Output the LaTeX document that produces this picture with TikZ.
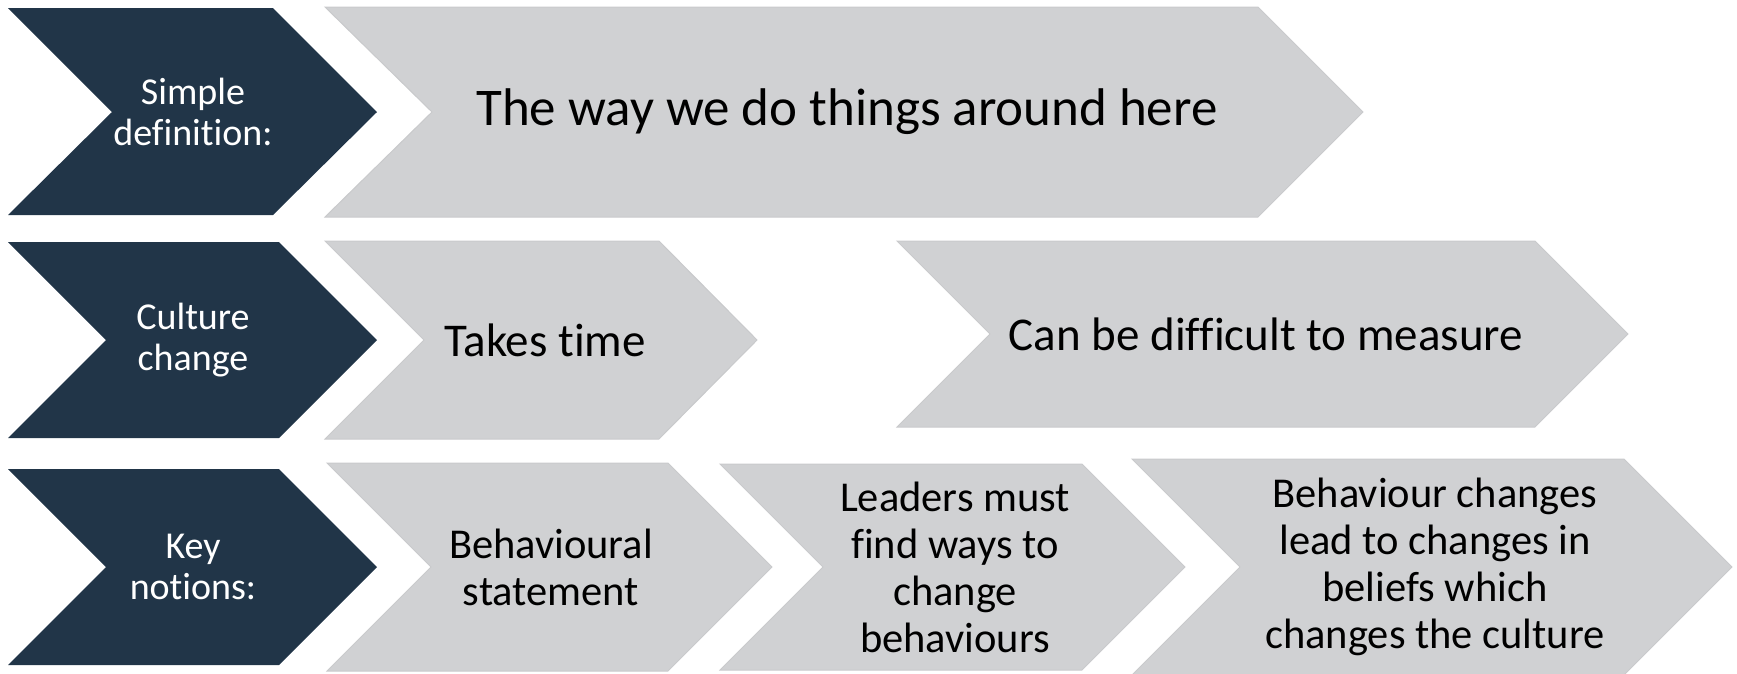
\documentclass[tikz,border=0pt]{standalone}
\usepackage{fontspec}
\setmainfont[Ligatures={NoCommon}]{Carlito}
\definecolor{navy}{RGB}{33,53,72}
\definecolor{lightgrey}{RGB}{208,209,211}
\definecolor{greyedge}{RGB}{201,202,204}
\tikzset{
  darkchev/.style={fill=navy},
  greychev/.style={fill=lightgrey,draw=greyedge,line width=1pt,line join=miter},
  darklabel/.style={text=white,align=center,inner sep=0pt,font=\fontsize{38}{41}\selectfont},
  biglabel/.style={text=black,align=center,inner sep=0pt,font=\fontsize{53}{60}\selectfont},
  midlabel/.style={text=black,align=center,inner sep=0pt,font=\fontsize{47}{54}\selectfont},
  smalllabel/.style={text=black,align=center,inner sep=0pt,font=\fontsize{42.5}{47}\selectfont}
}
\begin{document}
\begin{tikzpicture}[x=1pt,y=-1pt]
\useasboundingbox (0,0) rectangle (1737,673);
% Row 1
\fill[darkchev] (8,8) -- (273,8) -- (377,112) -- (273,215) -- (8,215) -- (112,112) -- cycle;
\filldraw[greychev] (325,7) -- (1258,7) -- (1363,112) -- (1258,217) -- (325,217) -- (432,112) -- cycle;
\node[darklabel] (simple) at (193,112) {Simple\\definition:};
\node[biglabel] (way) at (847,112) {The way we do things around here};
% Row 2
\fill[darkchev] (8,242) -- (279,242) -- (377,340) -- (279,438) -- (8,438) -- (106,340) -- cycle;
\filldraw[greychev] (325,241) -- (659,241) -- (757,340) -- (659,439) -- (325,439) -- (424,340) -- cycle;
\filldraw[greychev] (897,241) -- (1535,241) -- (1628,334) -- (1535,427) -- (897,427) -- (990,334) -- cycle;
\node[darklabel] (culture) at (193,340) {Culture\\change};
\node[midlabel] (takes) at (545,340) {Takes time};
\node[midlabel] (measure) at (1266,334) {Can be difficult to measure};
% Row 3
\fill[darkchev] (8,469) -- (279,469) -- (377,567) -- (279,665) -- (8,665) -- (106,567) -- cycle;
\filldraw[greychev] (327,463) -- (668,463) -- (772,567) -- (668,671) -- (327,671) -- (431,567) -- cycle;
\filldraw[greychev] (720,464) -- (1082,464) -- (1185,567) -- (1082,670) -- (720,670) -- (823,567) -- cycle;
\filldraw[greychev] (1132,459) -- (1624,459) -- (1732,567) -- (1624,675) -- (1132,675) -- (1240,567) -- cycle;
\node[darklabel] (key) at (193,567) {Key\\notions:};
\node[smalllabel] (behavioural) at (551,567) {Behavioural\\statement};
\node[smalllabel] (leaders) at (955,567) {Leaders must\\find ways to\\change\\behaviours};
\node[smalllabel] (changes) at (1435,567) {Behaviour changes\\lead to changes in\\beliefs which\\changes the culture};
\end{tikzpicture}
\end{document}
